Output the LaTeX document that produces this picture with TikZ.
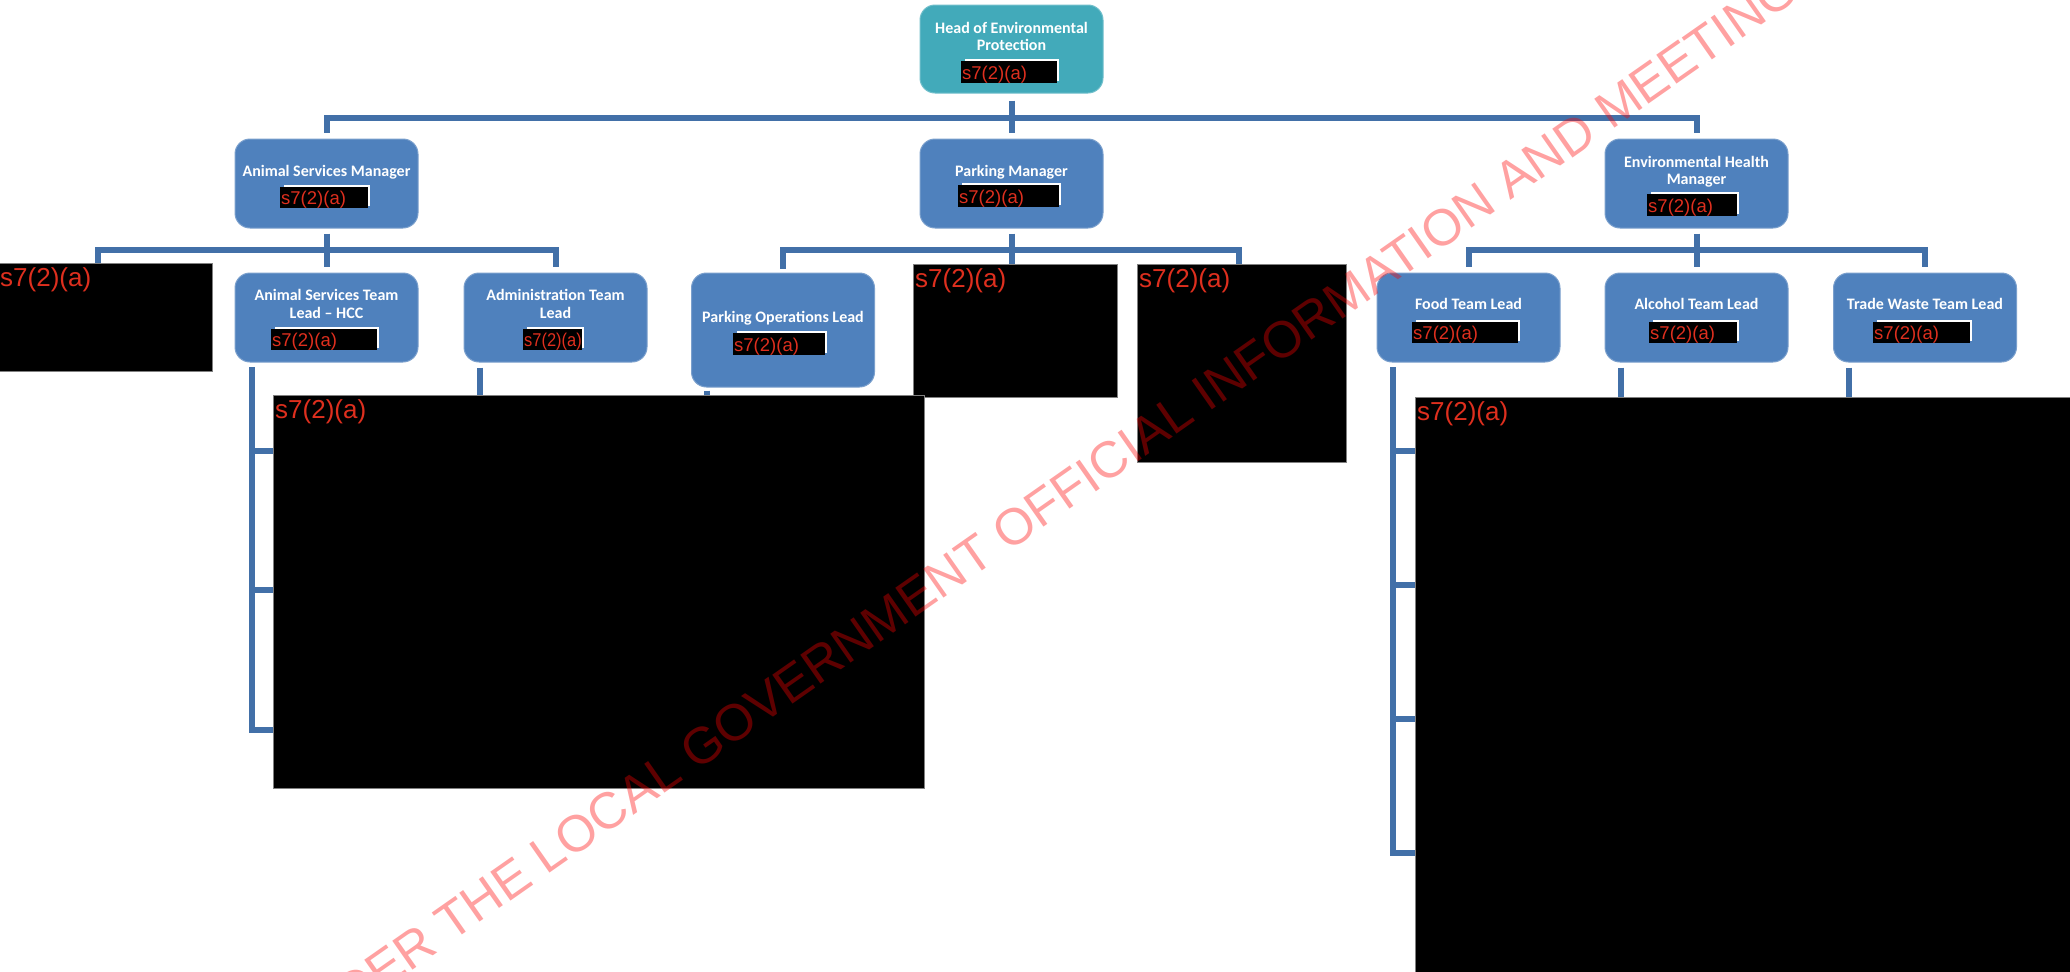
\documentclass[tikz,border=0pt]{standalone}
\usepackage{fontspec}
\usepackage{graphicx}
\newfontfamily\boxfont{Carlito}
\newfontfamily\redfont{Liberation Sans}
\usetikzlibrary{calc}
\pgfdeclarelayer{bg}
\pgfsetlayers{bg,main}
\definecolor{boxblue}{HTML}{4F81BD}
\definecolor{headteal}{HTML}{42AABA}
\definecolor{connblue}{HTML}{4270A8}
\definecolor{redtxt}{HTML}{DE2F1E}
\definecolor{edgegray}{HTML}{808080}
\newcommand\mkbar[6]{%
  \fill[white] (#2+4,#3-2) rectangle (#4+1.5,#5-2);
  \pgfmathsetmacro\bw{#4-#2}\pgfmathsetmacro\bh{#5-#3}%
  \node[barbox, minimum width=\bw pt, minimum height=\bh pt, anchor=north west] (#1) at (#2,#3) {};
  \node[bartxt, anchor=base west] (#1t) at (#2+1,#5-4) {\scalebox{#6}[1]{s7(2)(a)}};
}
\newcommand\mkredact[5]{%
  \pgfmathsetmacro\bw{#4-#2}\pgfmathsetmacro\bh{#5-#3}%
  \node[redact, minimum width=\bw pt, minimum height=\bh pt, anchor=north west] (#1) at (#2,#3) {};
  \node[bigred, anchor=base west] (#1t) at (#2+2,#3+23) {s7(2)(a)};
}
\begin{document}
\begin{tikzpicture}[x=1pt,y=-1pt,
  orgbox/.style={rounded corners=15pt, fill=boxblue, draw=boxblue!75!white, line width=1pt, inner sep=0pt, minimum width=183pt},
  headbox/.style={orgbox, fill=headteal, draw=headteal!75!white},
  boxtxt/.style={anchor=base, inner sep=0pt, text=white, font=\boxfont\bfseries\fontsize{16}{18}\selectfont},
  barbox/.style={fill=black, inner sep=0pt, draw=none},
  bartxt/.style={inner sep=0pt, text=redtxt, font=\redfont\fontsize{18.5}{20}\selectfont},
  redact/.style={fill=black, draw=edgegray, line width=0.8pt, inner sep=0pt},
  bigred/.style={inner sep=0pt, text=redtxt, font=\redfont\fontsize{26}{28}\selectfont},
  conn/.style={draw=connblue, line width=6pt, line join=miter},
  wm/.style={anchor=base west, rotate=35, inner sep=0pt, text=red, text opacity=0.37, font=\redfont\fontsize{51.2}{60}\selectfont}]
\useasboundingbox (0,0) rectangle (2070,972);
\begin{pgfonlayer}{bg}
\fill[white] (0,0) rectangle (2070,972);
\end{pgfonlayer}
\clip (0,0) rectangle (2070,972);

% ---- boxes ----
\node[headbox, minimum height=88pt] (head) at (1011.5,49) {};
\node[boxtxt] (headl1) at (1011.5,33) {Head of Environmental};
\node[boxtxt] (headl2) at (1011.5,50) {Protection};
\mkbar{headb}{961}{61}{1057}{83}{1}

\node[orgbox, minimum height=89pt] (asm) at (326.5,183.5) {};
\node[boxtxt] (asml1) at (326.5,176) {Animal Services Manager};
\mkbar{asmb}{280}{187}{368}{208}{1}

\node[orgbox, minimum height=89pt] (pm) at (1011.5,183.5) {};
\node[boxtxt] (pml1) at (1011.5,176) {Parking Manager};
\mkbar{pmb}{958}{185}{1059}{207}{1}

\node[orgbox, minimum height=89pt] (ehm) at (1696.5,183.5) {};
\node[boxtxt] (ehml1) at (1696.5,167) {Environmental Health};
\node[boxtxt] (ehml2) at (1696.5,184) {Manager};
\mkbar{ehmb}{1647}{194}{1737}{216}{1}

\node[orgbox, minimum height=89pt] (astl) at (326.5,317.5) {};
\node[boxtxt] (astll1) at (326.5,300) {Animal Services Team};
\node[boxtxt] (astll2) at (326.5,318) {Lead – HCC};
\mkbar{astlb}{271}{329}{377}{350}{1}

\node[orgbox, minimum height=89pt] (admin) at (555.5,317.5) {};
\node[boxtxt] (adminl1) at (555.5,300) {Administration Team};
\node[boxtxt] (adminl2) at (555.5,318) {Lead};
\mkbar{adminb}{523}{329}{582}{350}{0.89}

\node[orgbox, minimum height=114pt] (pops) at (783,330) {};
\node[boxtxt] (popsl1) at (783,322) {Parking Operations Lead};
\mkbar{popsb}{733}{333}{825}{355}{1}

\node[orgbox, minimum height=89pt] (food) at (1468.5,317.5) {};
\node[boxtxt] (foodl1) at (1468.5,309) {Food Team Lead};
\mkbar{foodb}{1412}{322}{1518}{343}{1}

\node[orgbox, minimum height=89pt] (alc) at (1696.5,317.5) {};
\node[boxtxt] (alcl1) at (1696.5,309) {Alcohol Team Lead};
\mkbar{alcb}{1649}{322}{1737}{343}{1}

\node[orgbox, minimum height=89pt] (tw) at (1925,317.5) {};
\node[boxtxt] (twl1) at (1925,309) {Trade Waste Team Lead};
\mkbar{twb}{1873}{322}{1970}{343}{1}

% ---- redaction boxes ----
\mkredact{rL}{-2}{263}{212}{371}
\mkredact{rPM}{913}{264}{1117}{397}
\mkredact{rPR}{1137}{264}{1346}{462}
\mkredact{rBL}{273}{395}{924}{788}
\mkredact{rBR}{1415}{397}{2080}{985}

% ---- connectors ----
\coordinate (bus0) at (1011.5,118);
\coordinate (bus1) at (326.5,250);
\coordinate (bus2) at (1011.5,250);
\coordinate (bus3) at (1696.5,250);
\coordinate (dropL) at (98,263);
\coordinate (dropPR) at (1239,264);
\coordinate (a1) at (273,451);
\coordinate (a2) at (273,590);
\coordinate (a3) at (273,730);
\coordinate (f1) at (1415,451);
\coordinate (f2) at (1415,585);
\coordinate (f3) at (1415,719);
\coordinate (f4) at (1415,853);
\coordinate (astlstem) at (252,367);
\coordinate (foodstem) at (1393,367);
\begin{pgfonlayer}{bg}
\draw[conn] ([yshift=-7pt]head.south) -- (bus0);
\draw[conn] ([yshift=6pt]asm.north) |- (bus0) -| ([yshift=6pt]ehm.north);
\draw[conn] (bus0) -- ([yshift=6pt]pm.north);

\draw[conn] ([yshift=-5pt]asm.south) -- ([yshift=6pt]astl.north);
\draw[conn] (dropL) |- (bus1) -| ([yshift=6pt]admin.north);

\draw[conn] ([yshift=-5pt]pm.south) -- (pm.south |- rPM.north);
\draw[conn] ([yshift=4pt]pops.north) |- (bus2) -| (dropPR);

\draw[conn] ([yshift=-5pt]ehm.south) -- ([yshift=6pt]alc.north);
\draw[conn] ([yshift=6pt]food.north) |- (bus3) -| ([yshift=6pt]tw.north);

\draw[conn] (astlstem) |- (a3);
\draw[conn] (a1 -| astlstem) -- (a1);
\draw[conn] (a2 -| astlstem) -- (a2);
\draw[conn] ([xshift=16pt,yshift=-5pt]admin.south west) -- ([xshift=16pt]admin.south west |- rBL.north);
\draw[conn] ([xshift=16pt,yshift=-3pt]pops.south west) -- ([xshift=16pt]pops.south west |- rBL.north);

\draw[conn] (foodstem) |- (f4);
\draw[conn] (f1 -| foodstem) -- (f1);
\draw[conn] (f2 -| foodstem) -- (f2);
\draw[conn] (f3 -| foodstem) -- (f3);
\draw[conn] ([xshift=16pt,yshift=-5pt]alc.south west) -- ([xshift=16pt]alc.south west |- rBR.north);
\draw[conn] ([xshift=16pt,yshift=-5pt]tw.south west) -- ([xshift=16pt]tw.south west |- rBR.north);
\end{pgfonlayer}

% ---- watermark ----
\node[wm] (wmark) at (351,1013) {DER THE LOCAL GOVERNMENT OFFICIAL INFORMATION AND MEETING};
\end{tikzpicture}
\end{document}
